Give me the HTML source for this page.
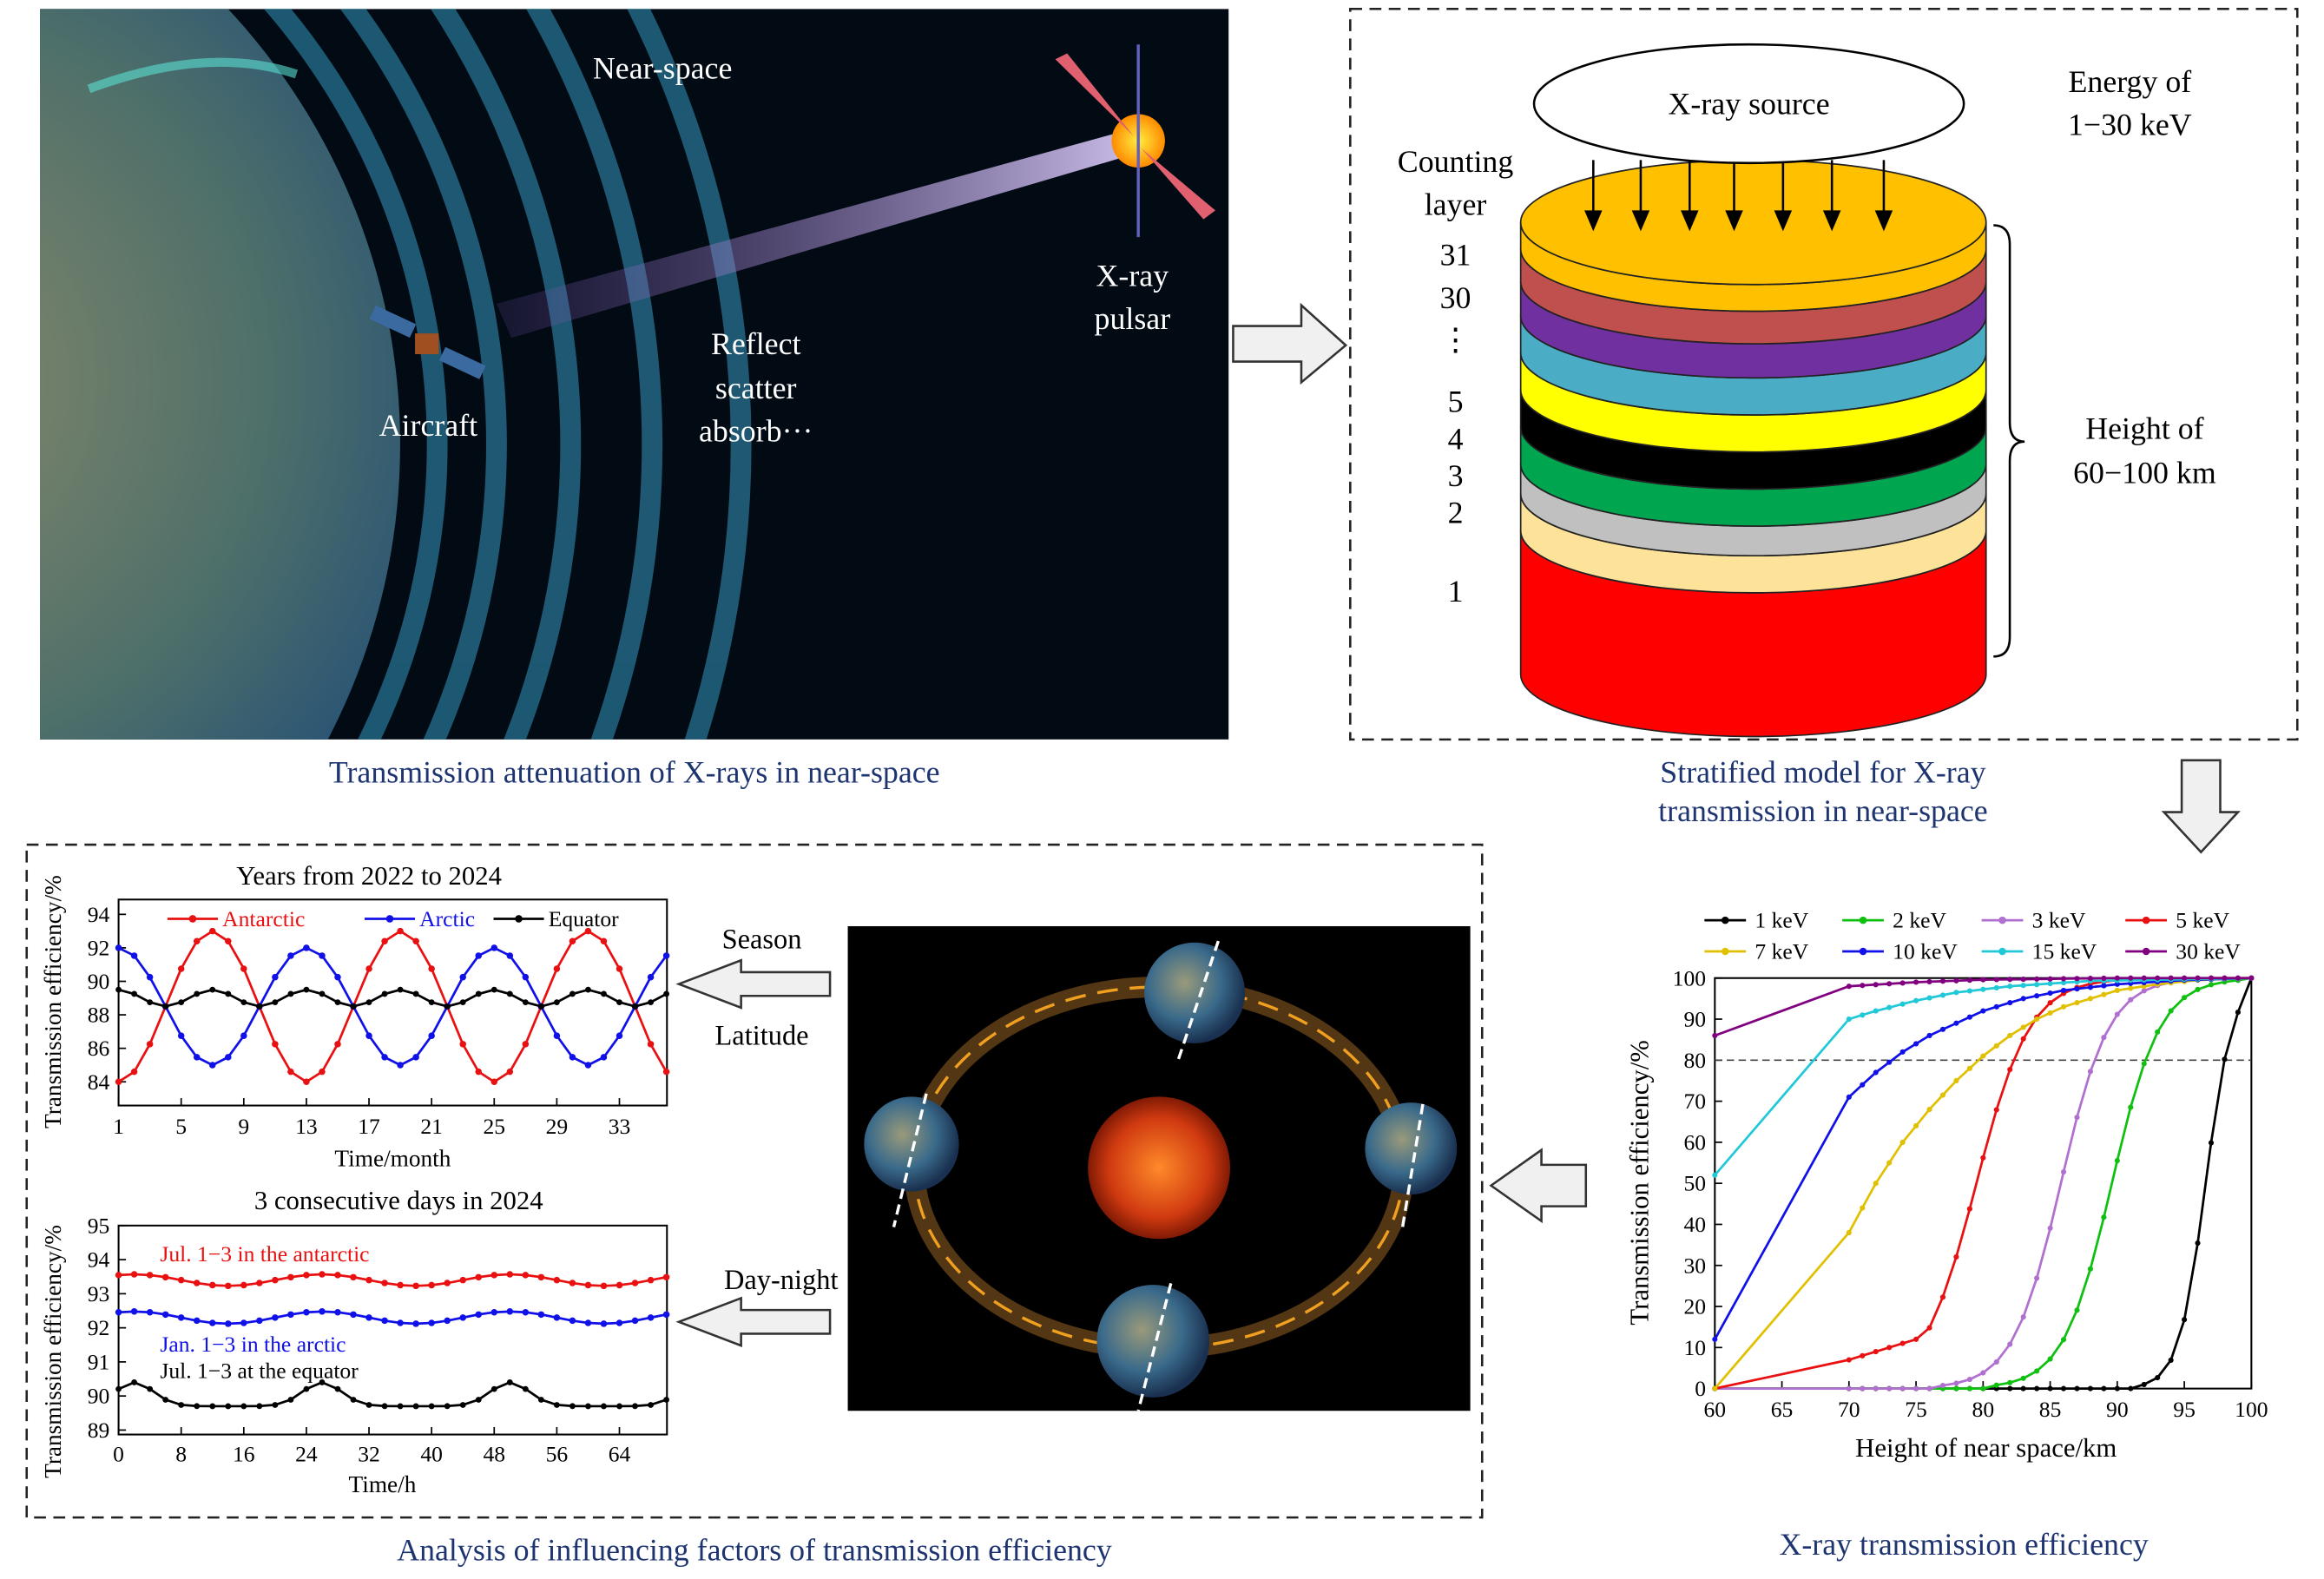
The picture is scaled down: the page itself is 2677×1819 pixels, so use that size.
<!DOCTYPE html>
<html><head><meta charset="utf-8"><style>
html,body{margin:0;padding:0;background:#fff;}
svg{display:block;}
text{font-family:"Liberation Serif",serif;}
</style></head><body>
<svg id="s" width="2677" height="1819" viewBox="0 0 1568 1065.5" preserveAspectRatio="none" xmlns="http://www.w3.org/2000/svg">
<defs>
<radialGradient id="earth" cx="0.6" cy="0.45" r="0.6">
<stop offset="0" stop-color="#8a8a6a"/><stop offset="0.5" stop-color="#4d6f6a"/><stop offset="0.85" stop-color="#1d4a78"/><stop offset="1" stop-color="#0a2a4a"/></radialGradient>
<radialGradient id="sun" cx="0.5" cy="0.5" r="0.5"><stop offset="0" stop-color="#ff8a2a"/><stop offset="0.7" stop-color="#d03a10"/><stop offset="1" stop-color="#801a05"/></radialGradient>
<radialGradient id="psr" cx="0.5" cy="0.5" r="0.5"><stop offset="0" stop-color="#ffee40"/><stop offset="1" stop-color="#ff8a00"/></radialGradient>
<radialGradient id="globe" cx="0.4" cy="0.4" r="0.6"><stop offset="0" stop-color="#9a9a7a"/><stop offset="0.6" stop-color="#3a6a8a"/><stop offset="1" stop-color="#1a3050"/></radialGradient>
<linearGradient id="beam" x1="0" y1="0" x2="1" y2="0"><stop offset="0" stop-color="#6a4aa0" stop-opacity="0.2"/><stop offset="1" stop-color="#e0d0ff" stop-opacity="0.9"/></linearGradient>
<clipPath id="c1"><rect x="27" y="6" width="802" height="493"/></clipPath>
</defs>

<g clip-path="url(#c1)">
<rect x="27" y="6" width="802" height="493" fill="#020a14"/>
<g fill="none" stroke="#2a7a9a" stroke-width="14" opacity="0.7">
<circle cx="-160" cy="300" r="660"/>
<circle cx="-160" cy="300" r="600"/>
<circle cx="-160" cy="300" r="545"/>
<circle cx="-160" cy="300" r="495"/>
<circle cx="-160" cy="300" r="455"/>
</g>
<circle cx="-160" cy="300" r="430" fill="url(#earth)"/>
<path d="M60 60 Q140 30 200 50" stroke="#5ae0d0" stroke-width="6" fill="none" opacity="0.6"/>
<polygon points="335,205 760,88 765,104 345,228" fill="url(#beam)"/>
<circle cx="768" cy="95" r="18" fill="url(#psr)"/>
<line x1="768" y1="30" x2="768" y2="160" stroke="#6060c0" stroke-width="2"/>
<polygon points="712,40 720,36 765,92" fill="#e06070"/>
<polygon points="770,100 820,142 812,148" fill="#e06070"/>
<rect x="280" y="225" width="16" height="14" fill="#a05020"/>
<rect x="250" y="212" width="30" height="10" fill="#3a6aa0" transform="rotate(25 265 217)"/>
<rect x="297" y="240" width="30" height="10" fill="#3a6aa0" transform="rotate(25 312 245)"/>
</g>
<g fill="#fff" font-size="21" text-anchor="middle">
<text x="447" y="53">Near-space</text>
<text x="764" y="193">X-ray</text><text x="764" y="222">pulsar</text>
<text x="510" y="239">Reflect</text><text x="510" y="269">scatter</text><text x="510" y="298">absorb···</text>
<text x="289" y="294">Aircraft</text>
</g>
<text x="428" y="528" font-size="21" fill="#1d3470" text-anchor="middle">Transmission attenuation of X-rays in near-space</text>

<polygon points="832,220 878,220 878,206 908,233 878,258 878,244 832,244" fill="#f0f0f0" stroke="#333" stroke-width="1.5"/>

<rect x="911" y="6" width="639" height="493" fill="none" stroke="#222" stroke-width="1.5" stroke-dasharray="8,5"/>
<g id="cyl"></g>
<ellipse cx="1180" cy="70" rx="145" ry="40" fill="#fff" stroke="#000" stroke-width="1.5"/>
<text x="1180" y="77" font-size="21" text-anchor="middle">X-ray source</text>
<g font-size="21" text-anchor="middle">
<text x="982" y="116">Counting</text><text x="982" y="145">layer</text>
<text x="982" y="179">31</text><text x="982" y="208">30</text><text x="982" y="236">⋮</text>
<text x="982" y="278">5</text><text x="982" y="303">4</text><text x="982" y="328">3</text><text x="982" y="353">2</text><text x="982" y="406">1</text>
<text x="1437" y="62">Energy of</text><text x="1437" y="91">1−30 keV</text>
<text x="1447" y="296">Height of</text><text x="1447" y="326">60−100 km</text>
</g>
<path d="M1345 152 Q1356 152 1356 165 L1356 285 Q1356 298 1366 298 Q1356 298 1356 311 L1356 430 Q1356 443 1345 443" fill="none" stroke="#000" stroke-width="1.5"/>
<text x="1230" y="528" font-size="21" fill="#1d3470" text-anchor="middle">Stratified model for X-ray</text>
<text x="1230" y="554" font-size="21" fill="#1d3470" text-anchor="middle">transmission in near-space</text>
<polygon points="1472,513 1498,513 1498,548 1510,548 1485,575 1460,548 1472,548" fill="#f0f0f0" stroke="#333" stroke-width="1.5"/>

<rect x="18" y="570" width="982" height="454" fill="none" stroke="#222" stroke-width="1.5" stroke-dasharray="8,5"/>
<g id="c1g"></g><g id="c2g"></g>
<g font-size="19" text-anchor="middle">
<text x="514" y="640">Season</text><text x="514" y="705">Latitude</text><text x="527" y="870">Day-night</text>
</g>
<polygon points="560,656 500,656 500,648 458,664 500,680 500,672 560,672" fill="#f0f0f0" stroke="#333" stroke-width="1.5"/>
<polygon points="560,884 500,884 500,876 458,892 500,908 500,900 560,900" fill="#f0f0f0" stroke="#333" stroke-width="1.5"/>
<text x="509" y="1053" font-size="21" fill="#1d3470" text-anchor="middle">Analysis of influencing factors of transmission efficiency</text>

<rect x="572" y="625" width="420" height="327" fill="#000"/>
<ellipse cx="782" cy="788" rx="165" ry="122" fill="none" stroke="#8a5a20" stroke-width="14" opacity="0.6"/>
<ellipse cx="782" cy="788" rx="165" ry="122" fill="none" stroke="#f0a020" stroke-width="2" stroke-dasharray="14,8"/>
<circle cx="782" cy="788" r="48" fill="url(#sun)"/>
<circle cx="806" cy="670" r="34" fill="url(#globe)"/>
<circle cx="615" cy="772" r="32" fill="url(#globe)"/>
<circle cx="952" cy="775" r="31" fill="url(#globe)"/>
<circle cx="778" cy="905" r="38" fill="url(#globe)"/>
<g stroke="#fff" stroke-width="2" stroke-dasharray="7,4"><line x1="822" y1="635" x2="794" y2="718"/><line x1="625" y1="738" x2="603" y2="828"/><line x1="960" y1="745" x2="946" y2="830"/><line x1="790" y1="866" x2="768" y2="952"/></g>
<polygon points="1070,786 1040,786 1040,776 1006,800 1040,824 1040,814 1070,814" fill="#f0f0f0" stroke="#333" stroke-width="1.5"/>

<g id="c3g"></g>
<text x="1325" y="1049" font-size="21" fill="#1d3470" text-anchor="middle">X-ray transmission efficiency</text>
</svg>
<script>
var NS="http://www.w3.org/2000/svg";
function el(p,t,a,txt){var e=document.createElementNS(NS,t);for(var k in a)e.setAttribute(k,a[k]);if(txt!==undefined)e.textContent=txt;p.appendChild(e);return e;}
var cy=document.getElementById('cyl');
var layers=[["#ff0000",358,455],["#fde29a",333,358],["#c0c0c0",313,333],["#00a550",288,313],["#000000",263,288],["#ffff00",238,263],["#4bacc6",213,238],["#7030a0",190,213],["#c0504d",168,190],["#ffc000",150,168]];
var cx=1183,rx=157,ry=42;
layers.forEach(function(l){
 el(cy,'path',{d:"M"+(cx-rx)+" "+l[1]+" L"+(cx-rx)+" "+l[2]+" A"+rx+" "+ry+" 0 0 0 "+(cx+rx)+" "+l[2]+" L"+(cx+rx)+" "+l[1]+" A"+rx+" "+ry+" 0 0 1 "+(cx-rx)+" "+l[1]+"Z",fill:l[0],stroke:"#222","stroke-width":1});
});
el(cy,'ellipse',{cx:cx,cy:150,rx:rx,ry:ry,fill:"#ffc000",stroke:"#222","stroke-width":1});
[1075,1107,1140,1170,1203,1236,1271].forEach(function(x){el(cy,'line',{x1:x,y1:108,x2:x,y2:150,stroke:"#000","stroke-width":1.5});el(cy,'polygon',{points:(x-6)+",142 "+(x+6)+",142 "+x+",156",fill:"#000"});});

function axes(g,x0,y0,x1,y1){el(g,'rect',{x:x0,y:y0,width:x1-x0,height:y1-y0,fill:"none",stroke:"#000","stroke-width":1.2});}
function line(g,pts,col,mk){var d=pts.map(function(p,i){return (i?"L":"M")+p[0].toFixed(1)+" "+p[1].toFixed(1)}).join(" ");el(g,'path',{d:d,fill:"none",stroke:col,"stroke-width":1.6});
 if(mk)pts.forEach(function(p){el(g,'circle',{cx:p[0],cy:p[1],r:mk,fill:col});});}
var g=document.getElementById('c1g');
var X=function(m){return 80+(m-1)*10.56},Y=function(v){return 730-(v-84)*11.3};
axes(g,80,607,450,746);
el(g,'text',{x:249,y:597,"font-size":18,"text-anchor":"middle"},"Years from 2022 to 2024");
[1,5,9,13,17,21,25,29,33].forEach(function(m){el(g,'line',{x1:X(m),y1:746,x2:X(m),y2:741,stroke:"#000"});el(g,'text',{x:X(m),y:765,"font-size":15,"text-anchor":"middle"},m);});
[84,86,88,90,92,94].forEach(function(v){el(g,'line',{x1:80,y1:Y(v),x2:85,y2:Y(v),stroke:"#000"});el(g,'text',{x:74,y:Y(v)+5,"font-size":15,"text-anchor":"end"},v);});
el(g,'text',{x:265,y:787,"font-size":16,"text-anchor":"middle"},"Time/month");
el(g,'text',{x:41,y:676,"font-size":16,"text-anchor":"middle",transform:"rotate(-90 41 676)"},"Transmission efficiency/%");
var a=[],b=[],c=[];
for(var m=1;m<=36;m++){var ph=2*Math.PI*(m-1)/12;a.push([X(m),Y(88.5-4.5*Math.cos(ph))]);b.push([X(m),Y(88.5+3.5*Math.cos(ph))]);c.push([X(m),Y(89+0.5*Math.cos(2*Math.PI*(m-7)/6))]);}
line(g,a,"#e81010",2.2);line(g,b,"#1010e8",2.2);line(g,c,"#000",2);
[[113,"#e81010","Antarctic"],[246,"#1010e8","Arctic"],[333,"#000","Equator"]].forEach(function(l){el(g,'line',{x1:l[0],y1:620,x2:l[0]+34,y2:620,stroke:l[1],"stroke-width":1.6});el(g,'circle',{cx:l[0]+17,cy:620,r:2.5,fill:l[1]});el(g,'text',{x:l[0]+37,y:625,"font-size":15,fill:l[1]},l[2]);});
g=document.getElementById('c2g');
X=function(h){return 80+h*5.28};Y=function(v){return 965-(v-89)*23};
axes(g,80,827,450,968);
el(g,'text',{x:269,y:816,"font-size":18,"text-anchor":"middle"},"3 consecutive days in 2024");
[0,8,16,24,32,40,48,56,64].forEach(function(h){el(g,'line',{x1:X(h),y1:968,x2:X(h),y2:963,stroke:"#000"});el(g,'text',{x:X(h),y:986,"font-size":15,"text-anchor":"middle"},h);});
[89,90,91,92,93,94,95].forEach(function(v){el(g,'line',{x1:80,y1:Y(v),x2:85,y2:Y(v),stroke:"#000"});el(g,'text',{x:74,y:Y(v)+5,"font-size":15,"text-anchor":"end"},v);});
el(g,'text',{x:258,y:1007,"font-size":16,"text-anchor":"middle"},"Time/h");
el(g,'text',{x:41,y:912,"font-size":16,"text-anchor":"middle",transform:"rotate(-90 41 912)"},"Transmission efficiency/%");
a=[];b=[];c=[];
for(var h=0;h<=70;h+=2){var p=2*Math.PI*(h-2)/24;a.push([X(h),Y(93.4+0.17*Math.cos(p))]);b.push([X(h),Y(92.3+0.18*Math.cos(p))]);var e=89.7+0.7*Math.exp(-Math.pow(((h-2+12)%24-12)/3.5,2));c.push([X(h),Y(e)]);}
line(g,a,"#e81010",2.2);line(g,b,"#1010e8",2.2);line(g,c,"#000",2);
el(g,'text',{x:108,y:851,"font-size":15,fill:"#e81010"},"Jul. 1−3 in the antarctic");
el(g,'text',{x:108,y:912,"font-size":15,fill:"#1010e8"},"Jan. 1−3 in the arctic");
el(g,'text',{x:108,y:930,"font-size":15,fill:"#000"},"Jul. 1−3 at the equator");
g=document.getElementById('c3g');
X=function(k){return 1157+(k-60)*9.05};Y=function(v){return 937-v*2.77};
axes(g,1157,660,1519,937);
[60,65,70,75,80,85,90,95,100].forEach(function(k){el(g,'line',{x1:X(k),y1:937,x2:X(k),y2:932,stroke:"#000"});el(g,'text',{x:X(k),y:956,"font-size":15,"text-anchor":"middle"},k);});
for(var v=0;v<=100;v+=10){el(g,'line',{x1:1157,y1:Y(v),x2:1162,y2:Y(v),stroke:"#000"});el(g,'text',{x:1151,y:Y(v)+5,"font-size":15,"text-anchor":"end"},v);}
el(g,'line',{x1:1157,y1:Y(80),x2:1519,y2:Y(80),stroke:"#444","stroke-dasharray":"5,3"});
el(g,'text',{x:1340,y:983,"font-size":18,"text-anchor":"middle"},"Height of near space/km");
el(g,'text',{x:1112,y:798,"font-size":18,"text-anchor":"middle",transform:"rotate(-90 1112 798)"},"Transmission efficiency/%");
function lg(c,w){return function(k){return 100/(1+Math.exp(-(k-c)/w));}}
var S=[
["#000",lg(96.6,1.0),null],["#10c010",lg(89.6,1.8),null],["#b070d0",lg(85.8,1.8),null],["#e81010",lg(79.5,2.0),[60,0,70,7]],
["#e0c000",null,[60,0,70,38,72,50,74,60,76,68,78,75,80,81,82,86,84,90,86,93,88,95,90,97,93,98.5,96,99.5,100,100]],
["#1010e8",null,[60,12,70,71,72,77,74,82,76,86,78,89,80,92,83,95,86,97,90,98.5,95,99.5,100,100]],
["#20c8d8",null,[60,52,70,90,72,92,75,94.5,78,96.5,82,98,88,99.3,100,100]],
["#800080",null,[60,86,70,98,75,99,80,99.6,90,100,100,100]]];
function interp(t,k){for(var i=0;i<t.length-2;i+=2){if(k>=t[i]&&k<=t[i+2]){return t[i+1]+(t[i+3]-t[i+1])*(k-t[i])/(t[i+2]-t[i]);}}return t[t.length-1];}
S.forEach(function(s){var pts=[];
 if(s[1]){ if(s[2]){pts.push([X(60),Y(0)]);pts.push([X(70),Y(7)]);for(var k=71;k<=100;k++){var v=k==100?100:Math.max(s[1](k),7+(k-70)*1.0);pts.push([X(k),Y(v)]);}}
  else{pts.push([X(60),Y(0)]);for(var k=70;k<=100;k++){var v=s[1](k);if(v<0.5)v=0;if(k==100)v=100;pts.push([X(k),Y(v)]);}}}
 else{pts.push([X(60),Y(s[2][1])]);for(var k=70;k<=100;k++)pts.push([X(k),Y(interp(s[2],k))]);}
 line(g,pts,s[0],1.8);});
var L=[["#000","1 keV",1150,621],["#10c010","2 keV",1243,621],["#b070d0","3 keV",1337,621],["#e81010","5 keV",1434,621],["#e0c000","7 keV",1150,642],["#1010e8","10 keV",1243,642],["#20c8d8","15 keV",1337,642],["#800080","30 keV",1434,642]];
L.forEach(function(l){el(g,'line',{x1:l[2],y1:l[3],x2:l[2]+28,y2:l[3],stroke:l[0],"stroke-width":1.6});el(g,'circle',{cx:l[2]+14,cy:l[3],r:2.5,fill:l[0]});el(g,'text',{x:l[2]+34,y:l[3]+5,"font-size":15},l[1]);});
</script>
</body></html>
